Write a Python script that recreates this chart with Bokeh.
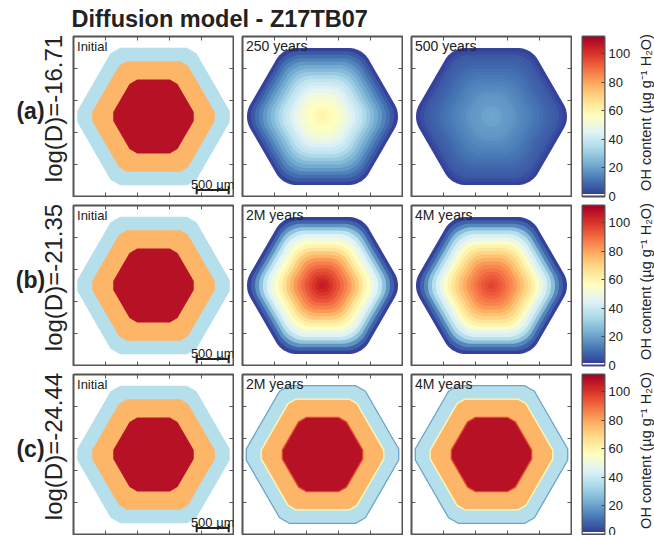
import numpy as np
from bokeh.plotting import figure
from bokeh.layouts import row, column
from bokeh.models import Range1d, FixedTicker, LinearAxis, Label, Span, LinearColorMapper
from bokeh.core.properties import value
from bokeh.embed import file_html
from bokeh.resources import INLINE
from bokeh.palettes import RdYlBu11

# ---------------- data ----------------
title_text = "Diffusion model - Z17TB07"
row_tags = ["(a)", "(b)", "(c)"]
row_logD = ["log(D)=-16.71", "log(D)=-21.35", "log(D)=-24.44"]
panel_titles = [["Initial", "250 years", "500 years"],
                ["Initial", "2M years", "4M years"],
                ["Initial", "2M years", "4M years"]]
cbar_ticks = [0, 20, 40, 60, 80, 100]
cbar_max = 112
cbar_title = "OH content (µg g⁻¹ H₂O)"
axis_ticks_um = [500, 1000, 1500, 2000]
panel_extent_um = 2500
scale_bar_um = 500
scale_bar_label = "500 µm"

# initial zoning (rim, mantle, core)
zone_oh = [36, 77, 108]
zone_apothem_um = [1075, 864, 579]
zone_chamfer_um = [50, 40, 40]

# diffused crystal: OH content on nested contour levels (outer edge -> centre)
crystal_apothem_um = 1072
ring_level = [1.00, 0.95, 0.90, 0.85, 0.80, 0.75, 0.70, 0.65, 0.60, 0.55,
              0.50, 0.45, 0.40, 0.35, 0.30, 0.25, 0.20, 0.15, 0.10, 0.05]
oh_250yr = [2, 6, 10, 14, 18, 22, 26, 30, 34, 38, 41, 44, 47, 50, 52, 54, 56, 57, 59, 60]
oh_500yr = [2, 4, 6, 7, 8, 9, 10, 11, 12, 13, 14, 15, 16, 17, 18, 18.5, 19, 20, 20.5, 21]
oh_2Myr = [2, 8, 17, 28, 38, 45, 50, 55, 60, 66, 72, 77, 82, 86, 90, 94, 97, 100, 103, 105]
oh_4Myr = [2, 8, 15, 27, 36, 43, 48, 54, 60, 65, 70, 74, 78, 82, 85, 88, 91, 93, 95, 97]
# row (c): OH at crystal edge, rim/mantle and mantle/core boundaries
boundary_oh_c = [20, 58, 96]

# ---------------- style / helpers ----------------
FONT = "Liberation Sans"
TXT = "#222222"
FRAME = "#555555"
FW, FH = 160, 160
GAP = 7
TOP = 35
LEFT_W = 72

seq = list(RdYlBu11)
if int(seq[0][1:3], 16) > int(seq[0][5:7], 16):
    seq = seq[::-1]
base = [tuple(int(h[i:i + 2], 16) for i in (1, 3, 5)) for h in seq]
pal = []
for i in range(256):
    t = i / 255 * 10
    k = min(int(t), 9)
    f = t - k
    c = [round(base[k][j] * (1 - f) + base[k + 1][j] * f) for j in range(3)]
    pal.append("#%02x%02x%02x" % tuple(c))


def oh_color(v):
    return pal[int(round(np.clip(v / cbar_max, 0, 1) * 255))]


CX = CY = panel_extent_um / 2


def chamfered_hexagon(apothem, chamfer):
    R = apothem / np.cos(np.pi / 6)
    ang = np.deg2rad(np.arange(0, 360, 60))
    vx, vy = CX + R * np.cos(ang), CY + R * np.sin(ang)
    xs, ys = [], []
    for k in range(6):
        for nb in ((k - 1) % 6, (k + 1) % 6):
            dx, dy = vx[nb] - vx[k], vy[nb] - vy[k]
            L = np.hypot(dx, dy)
            xs.append(vx[k] + 2 * chamfer * dx / L)
            ys.append(vy[k] + 2 * chamfer * dy / L)
    return xs, ys


def rounded_hexagon(apothem, rho, n=14):
    a0 = apothem - rho
    R0 = a0 / np.cos(np.pi / 6)
    xs, ys = [], []
    for k in range(6):
        c = np.deg2rad(60 * k)
        phis = np.linspace(c - np.pi / 6, c + np.pi / 6, n)
        xs.extend(CX + R0 * np.cos(c) + rho * np.cos(phis))
        ys.extend(CY + R0 * np.sin(c) + rho * np.sin(phis))
    return xs, ys


def blank_fig(**kw):
    p = figure(x_axis_location=None, y_axis_location=None, toolbar_location=None,
               output_backend="svg", title_location=None, **kw)
    p.grid.visible = False
    return p


def panel_fig():
    p = blank_fig(frame_width=FW, frame_height=FH,
                  x_range=Range1d(0, panel_extent_um), y_range=Range1d(0, panel_extent_um),
                  min_border_left=1, min_border_right=1, min_border_top=1, min_border_bottom=1)
    p.outline_line_color = FRAME
    p.outline_line_width = 2
    return p


def draw_ticks(p):
    L = 4 * panel_extent_um / FW
    E = panel_extent_um
    t = axis_ticks_um
    n = len(t)
    p.segment(x0=t, y0=[0] * n, x1=t, y1=[L] * n, line_color=FRAME, line_width=1)
    p.segment(x0=t, y0=[E] * n, x1=t, y1=[E - L] * n, line_color=FRAME, line_width=1)
    p.segment(x0=[0] * n, y0=t, x1=[L] * n, y1=t, line_color=FRAME, line_width=1)
    p.segment(x0=[E] * n, y0=t, x1=[E - L] * n, y1=t, line_color=FRAME, line_width=1)


def draw_zones(p, with_boundaries=False):
    xs, ys, fills, lines = [], [], [], []
    for a, d, v, b in zip(zone_apothem_um, zone_chamfer_um, zone_oh, boundary_oh_c):
        x, y = chamfered_hexagon(a, d)
        xs.append(x)
        ys.append(y)
        fills.append(oh_color(v))
        lines.append(oh_color(b))
    if with_boundaries:
        p.patches(xs, ys, fill_color=fills, line_color=lines, line_width=1.3)
    else:
        p.patches(xs, ys, fill_color=fills, line_color=None)


def draw_rings(p, oh_values):
    xs, ys, fills = [], [], []
    for s, v in zip(ring_level, oh_values):
        A = s * crystal_apothem_um
        rho = A * (1 - 0.65 * s ** 0.7)
        x, y = rounded_hexagon(A, rho)
        xs.append(x)
        ys.append(y)
        fills.append(oh_color(v))
    p.patches(xs, ys, fill_color=fills, line_color=None)


def draw_scale_bar(p):
    x0 = 1925
    y0 = 100
    h = 63
    x1 = x0 + scale_bar_um
    p.segment(x0=[x0, x0, x1], y0=[y0, y0 - h, y0 - h],
              x1=[x1, x0, x1], y1=[y0, y0 + h, y0 + h],
              line_color="#222222", line_width=2)
    p.add_layout(Label(x=(x0 + x1) / 2, y=190, text=scale_bar_label, text_align="center",
                       text_baseline="alphabetic", text_font=FONT, text_font_size="13px",
                       text_color=TXT))


profiles = {(0, 1): oh_250yr, (0, 2): oh_500yr, (1, 1): oh_2Myr, (1, 2): oh_4Myr}

grid = [[None] * 3 for _ in range(3)]
for r in range(3):
    for c in range(3):
        p = panel_fig()
        if c == 0:
            draw_zones(p)
            draw_scale_bar(p)
        elif r < 2:
            draw_rings(p, profiles[(r, c)])
        else:
            draw_zones(p, with_boundaries=True)
        draw_ticks(p)
        is_init = (c == 0)
        p.add_layout(Label(x=55, y=panel_extent_um - (45 if is_init else 25),
                           text=panel_titles[r][c], text_baseline="top",
                           text_font=FONT, text_font_size="13px" if is_init else "14px",
                           text_color=TXT))
        grid[r][c] = p

cols = [column([grid[r][c] for r in range(3)], spacing=GAP) for c in range(3)]
panels_row = row(cols, spacing=GAP)

# colour bars
grad = np.linspace(0, cbar_max, 256).reshape(256, 1)
mapper = LinearColorMapper(palette=pal, low=0, high=cbar_max)
cbs = []
for r in range(3):
    cb = blank_fig(frame_width=22, frame_height=FH, x_range=Range1d(0, 1), y_range=Range1d(0, cbar_max),
                   min_border_left=10, min_border_right=30,
                   min_border_top=1, min_border_bottom=(GAP + 1 if r < 2 else 1))
    cb.image(image=[grad], x=0, y=0, dw=1, dh=cbar_max, color_mapper=mapper)
    cb.add_layout(Span(location=1.2, dimension="width", line_color="white", line_width=1.5))
    cb.outline_line_color = FRAME
    cb.outline_line_width = 2
    ax = LinearAxis(ticker=FixedTicker(ticks=cbar_ticks), major_tick_in=3, major_tick_out=0,
                    minor_tick_in=0, minor_tick_out=0, axis_line_color=None,
                    major_tick_line_color="#444444", major_label_standoff=4,
                    major_label_text_font=FONT, major_label_text_font_size="13px",
                    major_label_text_color=TXT)
    cb.add_layout(ax, "right")
    cbs.append(cb)
cb_col = column(cbs, spacing=0)

BODY_H = 3 * (FH + 2) + 2 * GAP
row_centres = [r * (FH + 2 + GAP) + 1 + FH / 2 for r in range(3)]

# left labels
lf = blank_fig(width=LEFT_W, height=BODY_H, x_range=Range1d(0, LEFT_W), y_range=Range1d(0, BODY_H),
               min_border=0)
lf.outline_line_color = None
lf.text(x=[30] * 3, y=[BODY_H - (yc - 6) for yc in row_centres], text=row_tags,
        text_font=value(FONT), text_font_style="bold", text_font_size="23px",
        text_align="center", text_baseline="middle", text_color=TXT)
lf.text(x=[53] * 3, y=[BODY_H - (yc - 8) for yc in row_centres], text=row_logD,
        angle=np.pi / 2, text_font=value(FONT), text_font_size="24px",
        text_align="center", text_baseline="middle", text_color=TXT)

body = row([lf, panels_row, cb_col], spacing=0)

# title
tf = blank_fig(width=600, height=TOP, x_range=Range1d(0, 600), y_range=Range1d(0, TOP), min_border=0)
tf.outline_line_color = None
tf.add_layout(Label(x=71, y=TOP - 18.6, text=title_text, text_font=FONT,
                    text_font_style="bold", text_font_size="23.5px",
                    text_baseline="middle", text_color=TXT))

left_part = column([tf, body], spacing=0)

# right rotated colour-bar titles
TOTAL_H = TOP + BODY_H
RW = 20
rf = blank_fig(width=RW, height=TOTAL_H, x_range=Range1d(0, RW), y_range=Range1d(0, TOTAL_H),
               min_border=0)
rf.outline_line_color = None
rf.text(x=[11.5] * 3, y=[TOTAL_H - (TOP + yc - 4) for yc in row_centres], text=[cbar_title] * 3,
        angle=np.pi / 2, text_font=value(FONT), text_font_size="14.5px",
        text_align="center", text_baseline="middle", text_color=TXT)

layout = row([left_part, rf], spacing=0)

open("out.html", "w").write(file_html(layout, INLINE))
